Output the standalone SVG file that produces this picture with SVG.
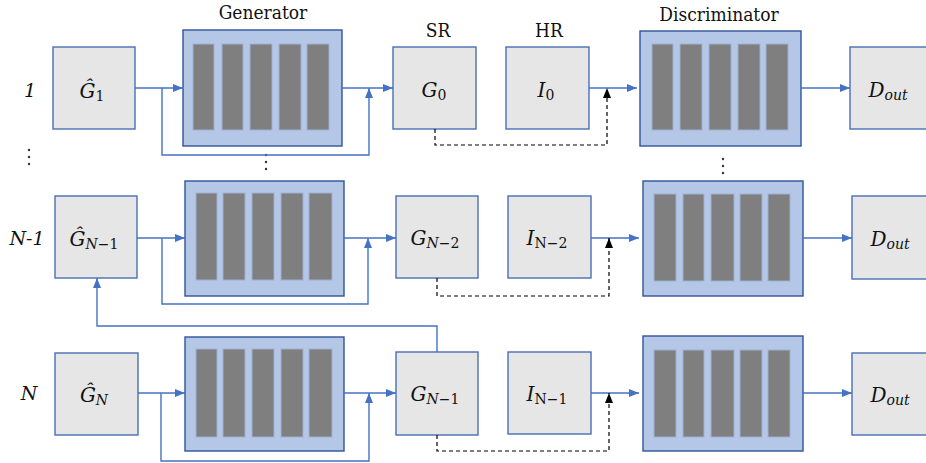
<svg xmlns="http://www.w3.org/2000/svg" width="926" height="463" viewBox="0 0 926 463">
<style>
.box{fill:#e6e6e6;stroke:#4a6eb5;stroke-width:1.4}
.blk{fill:#b4c7e7;stroke:#2f5597;stroke-width:1.4}
.bar{fill:#7f7f7f;stroke:#9fb0d2;stroke-width:1}
.ln{fill:none;stroke:#4472c4;stroke-width:1.4}
.dash{fill:none;stroke:#000;stroke-width:1.2;stroke-dasharray:4,3}
text{fill:#111;text-anchor:middle}
.title{font-family:'DejaVu Serif Condensed','DejaVu Serif',serif;font-size:19px}
.row{font-family:'DejaVu Serif',serif;font-style:italic;font-size:19px}
.m{font-family:'DejaVu Serif',serif;font-style:italic;font-size:20px}
.s{font-size:14px}
.u{font-style:normal}
.dot{fill:#333}
</style>
<defs>
<marker id="ab" markerUnits="userSpaceOnUse" markerWidth="10" markerHeight="8" refX="10" refY="4" orient="auto"><path d="M0,0 L10,4 L0,8 z" fill="#4472c4"/></marker>
<marker id="ak" markerUnits="userSpaceOnUse" markerWidth="10" markerHeight="8" refX="10" refY="4" orient="auto"><path d="M0,0 L10,4 L0,8 z" fill="#000"/></marker>
</defs>

<text class="title" x="263" y="19">Generator</text>
<text class="title" x="719" y="21">Discriminator</text>
<text class="title" x="438" y="37">SR</text>
<text class="title" x="549" y="37">HR</text>

<text class="row" x="30" y="97">1</text>
<text class="row" x="27" y="245">N-1</text>
<text class="row" x="29" y="400">N</text>

<g id="dots">
<circle class="dot" cx="29" cy="150" r="1.2"/><circle class="dot" cx="29" cy="157" r="1.2"/><circle class="dot" cx="29" cy="164" r="1.2"/>
<circle class="dot" cx="266" cy="155" r="1.2"/><circle class="dot" cx="266" cy="162" r="1.2"/><circle class="dot" cx="266" cy="169" r="1.2"/>
<circle class="dot" cx="723" cy="159" r="1.2"/><circle class="dot" cx="723" cy="166" r="1.2"/><circle class="dot" cx="723" cy="173" r="1.2"/>
</g>

<g id="ghat1"><rect class="box" x="53" y="47" width="82" height="82"/><text class="m" x="92" y="98">Ĝ<tspan class="s u" dy="3">1</tspan></text></g>
<g id="gen1"><rect class="blk" x="183" y="30" width="159" height="116"/>
<rect class="bar" x="193" y="44" width="21" height="86"/><rect class="bar" x="222" y="44" width="21" height="86"/><rect class="bar" x="250" y="44" width="22" height="86"/><rect class="bar" x="279" y="44" width="22" height="86"/><rect class="bar" x="307" y="44" width="22" height="86"/></g>
<g id="g0"><rect class="box" x="393" y="47" width="83" height="82"/><text class="m" x="434" y="97">G<tspan class="s u" dy="3">0</tspan></text></g>
<g id="i0"><rect class="box" x="506" y="47" width="83" height="82"/><text class="m" x="546" y="97">I<tspan class="s u" dy="3">0</tspan></text></g>
<g id="dis1"><rect class="blk" x="640" y="31" width="161" height="115"/>
<rect class="bar" x="652" y="44" width="21" height="86"/><rect class="bar" x="680" y="44" width="22" height="86"/><rect class="bar" x="709" y="44" width="22" height="86"/><rect class="bar" x="738" y="44" width="22" height="86"/><rect class="bar" x="766" y="44" width="22" height="86"/></g>
<g id="dout1"><rect class="box" x="850" y="47" width="84" height="82"/><text class="m" x="888" y="97">D<tspan class="s" dy="3">out</tspan></text></g>

<g id="ghatN1"><rect class="box" x="55" y="196" width="82" height="82"/><text class="m" x="94" y="246">Ĝ<tspan class="s" dy="3">N</tspan><tspan class="s u">−1</tspan></text></g>
<g id="gen2"><rect class="blk" x="185" y="181" width="159" height="115"/>
<rect class="bar" x="196" y="193" width="21" height="87"/><rect class="bar" x="223" y="193" width="22" height="87"/><rect class="bar" x="252" y="193" width="22" height="87"/><rect class="bar" x="281" y="193" width="22" height="87"/><rect class="bar" x="309" y="193" width="23" height="87"/></g>
<g id="gN2"><rect class="box" x="396" y="196" width="82" height="82"/><text class="m" x="435" y="245">G<tspan class="s" dy="3">N</tspan><tspan class="s u">−2</tspan></text></g>
<g id="iN2"><rect class="box" x="508" y="196" width="83" height="82"/><text class="m" x="547" y="245">I<tspan class="s u" dy="3">N−2</tspan></text></g>
<g id="dis2"><rect class="blk" x="643" y="181" width="160" height="115"/>
<rect class="bar" x="654" y="194" width="22" height="87"/><rect class="bar" x="683" y="194" width="21" height="87"/><rect class="bar" x="711" y="194" width="23" height="87"/><rect class="bar" x="740" y="194" width="22" height="87"/><rect class="bar" x="768" y="194" width="22" height="87"/></g>
<g id="dout2"><rect class="box" x="852" y="196" width="84" height="83"/><text class="m" x="890" y="246">D<tspan class="s" dy="3">out</tspan></text></g>

<g id="ghatN"><rect class="box" x="55" y="353" width="83" height="82"/><text class="m" x="94" y="402">Ĝ<tspan class="s" dy="3">N</tspan></text></g>
<g id="gen3"><rect class="blk" x="185" y="337" width="159" height="114"/>
<rect class="bar" x="196" y="349" width="21" height="88"/><rect class="bar" x="223" y="349" width="22" height="88"/><rect class="bar" x="252" y="349" width="22" height="88"/><rect class="bar" x="281" y="349" width="22" height="88"/><rect class="bar" x="309" y="349" width="23" height="88"/></g>
<g id="gN1"><rect class="box" x="396" y="352" width="82" height="83"/><text class="m" x="435" y="401">G<tspan class="s" dy="3">N</tspan><tspan class="s u">−1</tspan></text></g>
<g id="iN1"><rect class="box" x="508" y="352" width="83" height="82"/><text class="m" x="547" y="401">I<tspan class="s u" dy="3">N−1</tspan></text></g>
<g id="dis3"><rect class="blk" x="643" y="336" width="160" height="115"/>
<rect class="bar" x="654" y="350" width="22" height="87"/><rect class="bar" x="683" y="350" width="21" height="87"/><rect class="bar" x="711" y="350" width="23" height="87"/><rect class="bar" x="740" y="350" width="22" height="87"/><rect class="bar" x="768" y="350" width="22" height="87"/></g>
<g id="dout3"><rect class="box" x="852" y="353" width="84" height="82"/><text class="m" x="890" y="402">D<tspan class="s" dy="3">out</tspan></text></g>

<g id="connectors">
<path class="ln" d="M135 88 H183" marker-end="url(#ab)"/>
<path class="ln" d="M162 88 V155 H369 V88" marker-end="url(#ab)"/>
<path class="ln" d="M342 88 H393" marker-end="url(#ab)"/>
<path class="ln" d="M589 88 H637" marker-end="url(#ab)"/>
<path class="ln" d="M801 88 H850" marker-end="url(#ab)"/>
<path class="dash" d="M435 129 V145 H607 V88" marker-end="url(#ak)"/>

<path class="ln" d="M137 238 H185" marker-end="url(#ab)"/>
<path class="ln" d="M162 238 V304 H368 V238" marker-end="url(#ab)"/>
<path class="ln" d="M344 238 H396" marker-end="url(#ab)"/>
<path class="ln" d="M591 238 H639" marker-end="url(#ab)"/>
<path class="ln" d="M803 238 H852" marker-end="url(#ab)"/>
<path class="dash" d="M437 278 V296 H609 V238" marker-end="url(#ak)"/>

<path class="ln" d="M437 352 V326 H97 V278" marker-end="url(#ab)"/>

<path class="ln" d="M138 393 H185" marker-end="url(#ab)"/>
<path class="ln" d="M161 393 V461 H369 V393" marker-end="url(#ab)"/>
<path class="ln" d="M344 393 H396" marker-end="url(#ab)"/>
<path class="ln" d="M591 393 H639" marker-end="url(#ab)"/>
<path class="ln" d="M803 393 H852" marker-end="url(#ab)"/>
<path class="dash" d="M437 435 V451 H609 V393" marker-end="url(#ak)"/>
</g>
</svg>
